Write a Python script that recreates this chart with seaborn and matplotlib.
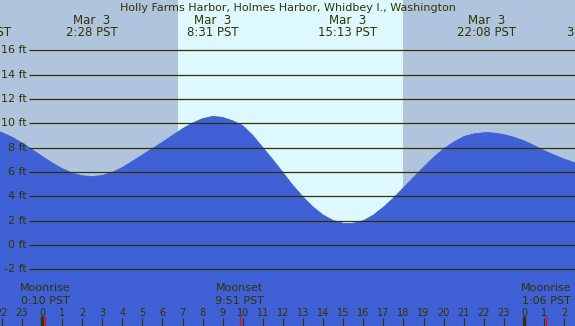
import numpy as np
import matplotlib
matplotlib.use("Agg")
import matplotlib.pyplot as plt
import seaborn as sns

# tide heights (ft), hours since midnight Mar 3
hours = [-3, -2.5, -2, -1.5, -1, -0.5, 0, 0.5, 1, 1.5, 2, 2.47, 3, 3.5, 4, 4.5, 5, 5.5, 6, 6.5,
         7, 7.5, 8, 8.52, 9, 9.5, 10, 10.5, 11, 11.5, 12, 12.5, 13, 13.5, 14, 14.5, 15, 15.22,
         15.5, 16, 16.5, 17, 17.5, 18, 18.5, 19, 19.5, 20, 20.5, 21, 21.5, 22, 22.13, 22.5,
         23, 23.5, 24, 24.5, 25, 25.5, 26, 26.5, 27]
heights = [9.55, 9.47, 9.24, 8.87, 8.39, 7.85, 7.29, 6.75, 6.28, 5.91, 5.69, 5.62, 5.71, 5.97,
           6.36, 6.87, 7.40, 7.92, 8.45, 9.00, 9.55, 10.02, 10.38, 10.57, 10.48, 10.20, 9.80,
           9.00, 8.00, 7.00, 5.95, 4.88, 3.94, 3.12, 2.46, 2.01, 1.78, 1.76, 1.79, 1.99, 2.45,
           3.10, 3.85, 4.70, 5.55, 6.40, 7.20, 7.90, 8.45, 8.90, 9.13, 9.22, 9.23, 9.20, 9.07,
           8.85, 8.56, 8.18, 7.75, 7.39, 7.05, 6.78, 6.55]

# high / low labels on top
ext_times = [-3.0, 2.47, 8.52, 15.22, 22.13, 27.45]
ext_dates = ["Mar  2", "Mar  3", "Mar  3", "Mar  3", "Mar  3", "Mar  4"]
ext_labels = ["21:03 PST", "2:28 PST", "8:31 PST", "15:13 PST", "22:08 PST", "3:18 PST"]

# moon events at bottom
moon_times = [0.17, 9.85, 25.1]
moon_names = ["Moonrise", "Moonset", "Moonrise"]
moon_labels = ["0:10 PST", "9:51 PST", "1:06 PST"]

sunrise, sunset = 6.77, 17.98
ft_levels = [-2, 0, 2, 4, 6, 8, 10, 12, 14, 16]
hour_ticks = list(range(-2, 27))
midnights = [0, 24]

title = "Holly Farms Harbor, Holmes Harbor, Whidbey I., Washington"

night_col = "#b0c4de"
day_col = "#ddf8ff"
water_col = "#4060d5"
ink = "#333300"

sns.set_theme(style="white")
plt.rcParams["font.family"] = ["DejaVu Sans"]

fig = plt.figure(figsize=(5.75, 3.26), dpi=100)
ax = fig.add_axes([0, 0, 1, 1])
ax.set_xlim(-2.09, 26.54)
ax.set_ylim(-6.66, 20.13)
ax.set_facecolor(night_col)
for s in ax.spines.values():
    s.set_visible(False)
ax.set_xticks([])
ax.set_yticks([])

ax.axvspan(sunrise, sunset, color=day_col, lw=0, zorder=0)

ax.fill_between(hours, heights, -10, color=water_col, lw=0, zorder=1)
sns.lineplot(x=hours, y=heights, color=water_col, lw=0.6, ax=ax, zorder=1)

ax.hlines(ft_levels, -0.65, 27, color=ink, lw=0.9, zorder=2)
for v in ft_levels:
    ax.text(-0.75, v - 0.25, f"{v} ft", ha="right", va="baseline", fontsize=8, color=ink)

tr = ax.get_xaxis_transform()
ax.text(0.5, 1 - 11 / 326, title, transform=ax.transAxes, ha="center", va="baseline",
        fontsize=8, color=ink)
for t, d, l in zip(ext_times, ext_dates, ext_labels):
    ax.text(t, 1 - 24 / 326, d, transform=tr, ha="center", va="baseline", fontsize=8.5, color=ink)
    ax.text(t, 1 - 36 / 326, l, transform=tr, ha="center", va="baseline", fontsize=8.5, color=ink)

for t, n, l in zip(moon_times, moon_names, moon_labels):
    ax.text(t, 1 - 291 / 326, n, transform=tr, ha="center", va="baseline", fontsize=8, color=ink)
    ax.text(t, 1 - 303.7 / 326, l, transform=tr, ha="center", va="baseline", fontsize=8, color=ink)

for h in hour_ticks:
    ax.text(h, 1 - 316 / 326, str(h % 24), transform=tr, ha="center", va="baseline",
            fontsize=7, color=ink)
ax.vlines(hour_ticks, 0, 8 / 326, transform=tr, color=ink, lw=0.8)
ax.vlines(midnights, 0, 10 / 326, transform=tr, color=ink, lw=2.4)
ax.vlines(moon_times, 0, 10 / 326, transform=tr, color="red", lw=0.9)

fig.savefig("out.png", dpi=100)
